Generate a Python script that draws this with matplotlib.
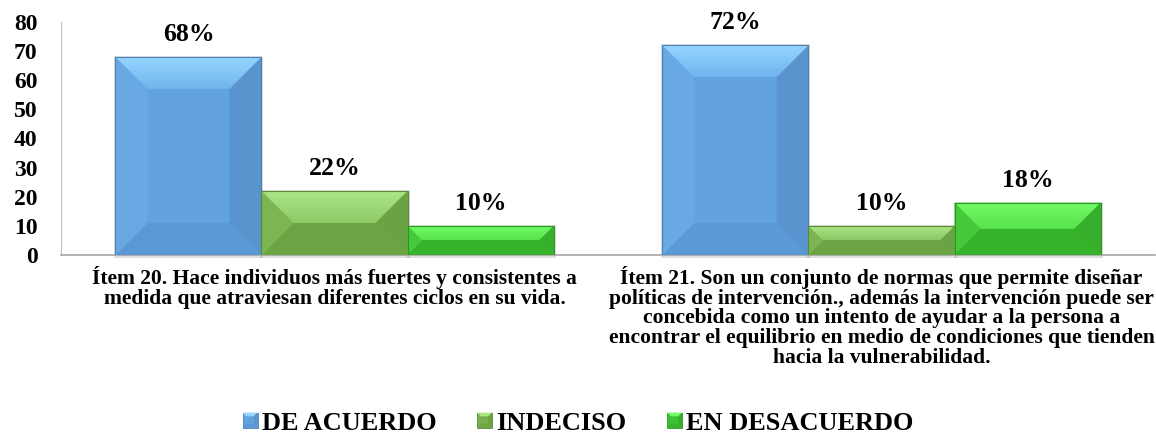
import matplotlib
matplotlib.use('Agg')
import matplotlib.pyplot as plt
import numpy as np
from matplotlib.patches import Polygon, Rectangle
from matplotlib.colors import LinearSegmentedColormap
from matplotlib.legend_handler import HandlerBase

# data
items = [
    'Ítem 20. Hace individuos más fuertes y consistentes a\n'
    'medida que atraviesan diferentes ciclos en su vida.',
    'Ítem 21. Son un conjunto de normas que permite diseñar\n'
    'políticas de intervención., además la intervención puede ser\n'
    'concebida como un intento de ayudar a la persona a\n'
    'encontrar el equilibrio en medio de condiciones que tienden\n'
    'hacia la vulnerabilidad.',
]
series = ['DE ACUERDO', 'INDECISO', 'EN DESACUERDO']
de_acuerdo = [68, 72]
indeciso = [22, 10]
en_desacuerdo = [10, 18]
values = [de_acuerdo, indeciso, en_desacuerdo]

# face, top light, top low, left, right, bottom, edge
palette = [
    dict(face='#62A3DF', top1='#94D6FF', top2='#70B4EE', left='#68A9E4',
         right='#5994CE', bottom='#5B99D4', edge='#4A80B6'),
    dict(face='#76AF4C', top1='#ACE787', top2='#8DC965', left='#7CB653',
         right='#6BA243', bottom='#6DA545', edge='#5A8A38'),
    dict(face='#3EC032', top1='#72FC66', top2='#57E34B', left='#46C93A',
         right='#37AE2C', bottom='#36B22B', edge='#2E9424'),
]

FONT = 'Liberation Serif'
plt.rcParams['font.family'] = FONT
plt.rcParams['font.weight'] = 'bold'

fig = plt.figure(figsize=(11.56, 4.41), dpi=100)
ax = fig.add_axes([61 / 1156, 186 / 441, 1094 / 1156, 233 / 441])
ax.set_xlim(-0.5, 1.5)
ax.set_ylim(0, 80)

x = np.arange(len(items))
width = 0.267
offsets = [-width, 0, width]


def bevel(ax, rect, c, bev_px=32):
    x0, y0 = rect.get_x(), rect.get_y()
    w, h = rect.get_width(), rect.get_height()
    x1, y1 = x0 + w, y0 + h
    p0 = ax.transData.transform((x0, y0))
    p1 = ax.transData.transform((x1, y1))
    wpx, hpx = p1[0] - p0[0], p1[1] - p0[1]
    b = min(bev_px, hpx / 2, wpx / 2)
    bx = b * w / wpx
    by = b * h / hpx
    # soft shadow
    sx, sy = 2 * w / wpx, 3 * h / hpx
    ax.add_patch(Rectangle((x0 - sx * 0.5, y0 - sy), w + sx * 1.5, h + sy * 1.3,
                           facecolor='#808080', alpha=0.25, lw=0, zorder=1,
                           clip_on=False))
    parts = [
        ([(x0, y0), (x1, y0), (x1 - bx, y0 + by), (x0 + bx, y0 + by)], c['bottom']),
        ([(x0, y0), (x0 + bx, y0 + by), (x0 + bx, y1 - by), (x0, y1)], c['left']),
        ([(x1, y0), (x1 - bx, y0 + by), (x1 - bx, y1 - by), (x1, y1)], c['right']),
    ]
    for pts, col in parts:
        ax.add_patch(Polygon(pts, closed=True, facecolor=col, lw=0, zorder=3))
    top = Polygon([(x0, y1), (x1, y1), (x1 - bx, y1 - by), (x0 + bx, y1 - by)],
                  closed=True, facecolor='none', lw=0, zorder=4)
    ax.add_patch(top)
    cmap = LinearSegmentedColormap.from_list('t', [c['top2'], c['top1']])
    grad = np.linspace(0, 1, 64).reshape(-1, 1)
    im = ax.imshow(grad, extent=[x0, x1, y1 - by, y1], origin='lower',
                   aspect='auto', cmap=cmap, zorder=3.5, interpolation='bilinear')
    im.set_clip_path(top)
    ax.add_patch(Rectangle((x0, y0), w, h, facecolor='none', edgecolor=c['edge'],
                           lw=0.8, zorder=5))


for i, (vals, name) in enumerate(zip(values, series)):
    bars = ax.bar(x + offsets[i], vals, width, color=palette[i]['face'],
                  label=name, zorder=2, linewidth=0)
    for rect, v in zip(bars, vals):
        bevel(ax, rect, palette[i])
        ax.annotate(f'{v}%', (rect.get_x() + rect.get_width() / 2, v),
                    xytext=(0, 11.5), textcoords='offset points',
                    ha='center', va='baseline', fontsize=18.5,
                    fontweight='bold', color='black')

ax.set_xlim(-0.5, 1.5)
ax.set_ylim(0, 80)

ax.set_yticks(range(0, 81, 10))
ax.tick_params(axis='y', length=0, pad=17, labelsize=17)
ax.set_xticks(x)
ax.set_xticklabels(items, fontsize=15.5, fontweight='bold', linespacing=0.985)
ax.tick_params(axis='x', length=0, pad=7.8)
for lab in ax.get_yticklabels():
    lab.set_fontweight('bold')

for s in ['top', 'right']:
    ax.spines[s].set_visible(False)
ax.spines['left'].set_color('#BFBFBF')
ax.spines['bottom'].set_color('#A6A6A6')
ax.spines['bottom'].set_linewidth(1.2)


class BevelHandler(HandlerBase):
    def __init__(self, c):
        super().__init__()
        self.c = c

    def create_artists(self, legend, orig_handle, xdescent, ydescent,
                       width, height, fontsize, trans):
        c = self.c
        x0, y0 = -xdescent, -ydescent
        x1, y1 = x0 + width, y0 + height
        b = min(width, height) * 0.25
        arts = [Rectangle((x0, y0), width, height, facecolor=c['face'],
                          edgecolor=c['edge'], lw=0.6, transform=trans)]
        pts = [
            ([(x0, y1), (x1, y1), (x1 - b, y1 - b), (x0 + b, y1 - b)], c['top1']),
            ([(x0, y0), (x1, y0), (x1 - b, y0 + b), (x0 + b, y0 + b)], c['bottom']),
            ([(x1, y0), (x1 - b, y0 + b), (x1 - b, y1 - b), (x1, y1)], c['right']),
        ]
        for p, col in pts:
            arts.append(Polygon(p, closed=True, facecolor=col, lw=0, transform=trans))
        return arts


handles = ax.containers
leg = fig.legend(handles, series, loc='center', bbox_to_anchor=(0.5, 18 / 441),
                 ncol=3, frameon=False, prop={'family': FONT, 'weight': 'bold',
                                              'size': 19},
                 handlelength=0.57, handleheight=0.5, handletextpad=0.15,
                 columnspacing=1.55,
                 handler_map={h: BevelHandler(palette[i]) for i, h in enumerate(handles)})

fig.savefig('out.png', dpi=100)
